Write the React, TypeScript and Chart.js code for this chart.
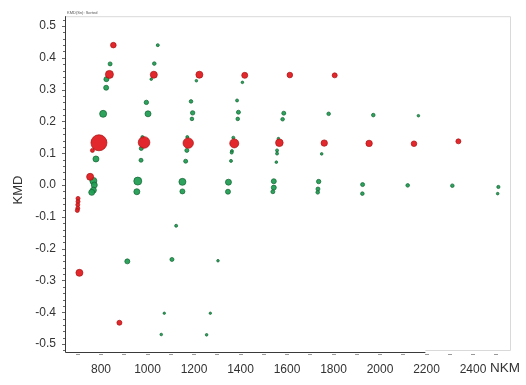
import React, { useEffect, useRef } from "react";
import { Chart, registerables } from "chart.js";

Chart.register(...registerables);

// ---- data (NKM, KMD, bubble radius) ----
const redX = [701, 701, 700, 700, 698, 707, 791, 763, 753, 853, 836, 1027, 1223, 1418, 1612, 1805, 985, 1175, 1373, 1567, 1760, 1953, 2146, 2337, 879];
const redY = [-0.042, -0.052, -0.062, -0.073, -0.08, -0.276, 0.133, 0.109, 0.026, 0.44, 0.348, 0.347, 0.347, 0.345, 0.346, 0.345, 0.134, 0.132, 0.131, 0.133, 0.132, 0.131, 0.13, 0.1375, -0.433];
const redSize = [2, 2, 2, 2, 2, 3.5, 8, 2, 3.5, 2.8, 4, 3.5, 3.5, 3, 2.8, 2.5, 5.8, 5.2, 4.5, 3.8, 3.2, 3.2, 2.8, 2.5, 2.5];

const greenX = [1044, 839, 1029, 823, 1016, 1210, 1408, 822, 995, 1187, 1385, 809, 1002, 1194, 1191, 1391, 1388, 1586, 1581, 1779, 1971, 2165, 778, 978, 973, 972, 1171, 1169, 1164, 1369, 1363, 1362, 1359, 1563, 1557, 1557, 1554, 1749, 767, 771, 767, 760, 958, 954, 1150, 1150, 1348, 1346, 1543, 1543, 1539, 1736, 1733, 1732, 1925, 1924, 2119, 2311, 2509, 2506, 913, 1105, 1303, 1123, 1072, 1270, 1059, 1254];
const greenY = [0.44, 0.381, 0.382, 0.333, 0.333, 0.328, 0.323, 0.306, 0.26, 0.263, 0.266, 0.224, 0.224, 0.227, 0.208, 0.229, 0.208, 0.226, 0.207, 0.224, 0.22, 0.218, 0.082, 0.151, 0.115, 0.078, 0.151, 0.109, 0.075, 0.149, 0.107, 0.102, 0.076, 0.146, 0.109, 0.099, 0.072, 0.098, 0.013, 0.0, -0.016, -0.023, 0.0125, -0.021, 0.01, -0.02, 0.009, -0.021, 0.012, -0.008, -0.021, 0.011, -0.0125, -0.023, 0.0015, -0.027, -0.001, -0.002, -0.006, -0.027, -0.24, -0.234, -0.238, -0.128, -0.403, -0.403, -0.47, -0.471];
const greenSize = [1.5, 2, 1.8, 2.5, 1.3, 1.3, 1.3, 2.5, 2.2, 1.8, 1.5, 3.5, 3, 2.2, 1.8, 2, 1.8, 2, 1.8, 1.8, 1.8, 1.3, 3, 1.5, 2, 2, 1.5, 2, 2, 1.5, 1.5, 1.5, 1.5, 1.3, 1.5, 1.5, 1.3, 1.3, 3.5, 3, 3, 3, 4, 3, 3.5, 2.5, 3, 2.5, 2.5, 2.5, 2, 2.2, 2, 1.8, 2, 1.8, 1.8, 1.8, 1.6, 1.3, 2.5, 2, 1.3, 1.5, 1.2, 1.2, 1.3, 1.3];

const xTicks = [800, 1000, 1200, 1400, 1600, 1800, 2000, 2200, 2400];
const yTicks = [-0.5, -0.4, -0.3, -0.2, -0.1, 0, 0.1, 0.2, 0.3, 0.4, 0.5];
const xMinorTicks = [700, 800, 900, 1000, 1100, 1200, 1300, 1400, 1500, 1600, 1700, 1800, 1900, 2000, 2100, 2200, 2300, 2400, 2500];

const xTitle = "NKM";
const yTitle = "KMD";
const header = "KMD(Sn): Sorted";

const FONT = "'Liberation Sans', Arial, sans-serif";

const framePlugin = {
  id: "frame",
  beforeDatasetsDraw(chart: any) {
    const { ctx, chartArea } = chart;
    const { left, right, top, bottom } = chartArea;
    const xs = chart.scales.x;
    const ys = chart.scales.y;
    ctx.save();
    ctx.strokeStyle = "#d9d9d9";
    ctx.lineWidth = 1;
    ctx.beginPath();
    ctx.moveTo(left, top + 0.5);
    ctx.lineTo(right + 0.5, top + 0.5);
    ctx.lineTo(right + 0.5, bottom - 1.5);
    ctx.stroke();
    const breakX = xs.getPixelForValue(2195);
    ctx.beginPath();
    ctx.moveTo(breakX, bottom - 1.5);
    ctx.lineTo(right + 0.5, bottom - 1.5);
    ctx.stroke();
    ctx.strokeStyle = "#3a3a3a";
    ctx.beginPath();
    ctx.moveTo(left + 0.5, top);
    ctx.lineTo(left + 0.5, bottom + 0.5);
    ctx.lineTo(breakX, bottom + 0.5);
    ctx.stroke();
    ctx.strokeStyle = "#666";
    for (let i = -26; i <= 26; i++) {
      const v = i * 0.02;
      const py = Math.round(ys.getPixelForValue(v)) + 0.5;
      if (py < top || py > bottom) continue;
      const major = i % 5 === 0;
      ctx.beginPath();
      ctx.moveTo(left - (major ? 3 : 2), py);
      ctx.lineTo(left, py);
      ctx.stroke();
    }
    ctx.fillStyle = "#999";
    for (const v of xMinorTicks) {
      const px = Math.round(xs.getPixelForValue(v));
      ctx.fillRect(px - 2, bottom + 2, 4, 1);
    }
    ctx.restore();
  },
  afterDraw(chart: any) {
    const { ctx, chartArea } = chart;
    const xs = chart.scales.x;
    ctx.save();
    ctx.fillStyle = "#333";
    ctx.font = `13px ${FONT}`;
    ctx.textAlign = "center";
    ctx.textBaseline = "middle";
    ctx.translate(18, 190);
    ctx.rotate(-Math.PI / 2);
    ctx.fillText(yTitle, 0, 0);
    ctx.restore();

    ctx.save();
    ctx.fillStyle = "#333";
    ctx.font = `13.5px ${FONT}`;
    ctx.textAlign = "left";
    ctx.textBaseline = "middle";
    ctx.fillText(xTitle, xs.getPixelForValue(2400) + 17, 368);
    ctx.font = `4px ${FONT}`;
    ctx.fillStyle = "#555";
    ctx.textBaseline = "alphabetic";
    ctx.fillText(header, chartArea.left + 2, chartArea.top - 2);
    ctx.restore();
  },
};

export default function App() {
  const ref = useRef<HTMLCanvasElement | null>(null);
  useEffect(() => {
    document.body.style.margin = "0";
    const canvas = ref.current;
    if (!canvas) return;
    const chart = new Chart(canvas, {
      type: "bubble",
      data: {
        datasets: [
          {
            label: "red",
            data: redX.map((x, i) => ({ x, y: redY[i], r: redSize[i] })),
            backgroundColor: "rgba(226,28,34,0.95)",
            borderColor: "rgba(170,20,20,0.9)",
            borderWidth: 0.8,
          },
          {
            label: "green",
            data: greenX.map((x, i) => ({ x, y: greenY[i], r: greenSize[i] })),
            backgroundColor: "rgba(34,158,84,0.95)",
            borderColor: "rgba(18,100,50,0.9)",
            borderWidth: 0.8,
          },
        ],
      },
      options: {
        animation: false,
        responsive: false,
        devicePixelRatio: 1,
        events: [],
        layout: { padding: { top: 15, right: 16, left: 0, bottom: 0 } },
        plugins: { legend: { display: false }, tooltip: { enabled: false } },
        scales: {
          x: {
            type: "linear",
            min: 645,
            max: 2559,
            border: { display: false },
            grid: { display: false, drawTicks: false },
            afterBuildTicks: (s: any) => {
              s.ticks = xTicks.map((v) => ({ value: v }));
            },
            afterFit: (s: any) => {
              s.height = 33;
            },
            ticks: {
              padding: 10,
              color: "#333",
              font: { family: FONT, size: 12 },
              maxRotation: 0,
              autoSkip: false,
              callback: (v: any) => String(v),
            },
          },
          y: {
            type: "linear",
            min: -0.525,
            max: 0.531,
            border: { display: false },
            grid: { display: false, drawTicks: false },
            afterBuildTicks: (s: any) => {
              s.ticks = yTicks.map((v) => ({ value: v }));
            },
            afterFit: (s: any) => {
              s.width = 65;
            },
            ticks: {
              padding: 9,
              color: "#333",
              font: { family: FONT, size: 12 },
              autoSkip: false,
              callback: (v: any) => Number(v).toFixed(1),
            },
          },
        },
      },
      plugins: [framePlugin],
    });
    return () => chart.destroy();
  }, []);
  return (
    <div style={{ width: 526, height: 385, background: "#fff" }}>
      <canvas ref={ref} width={526} height={385} style={{ display: "block" }} />
    </div>
  );
}
